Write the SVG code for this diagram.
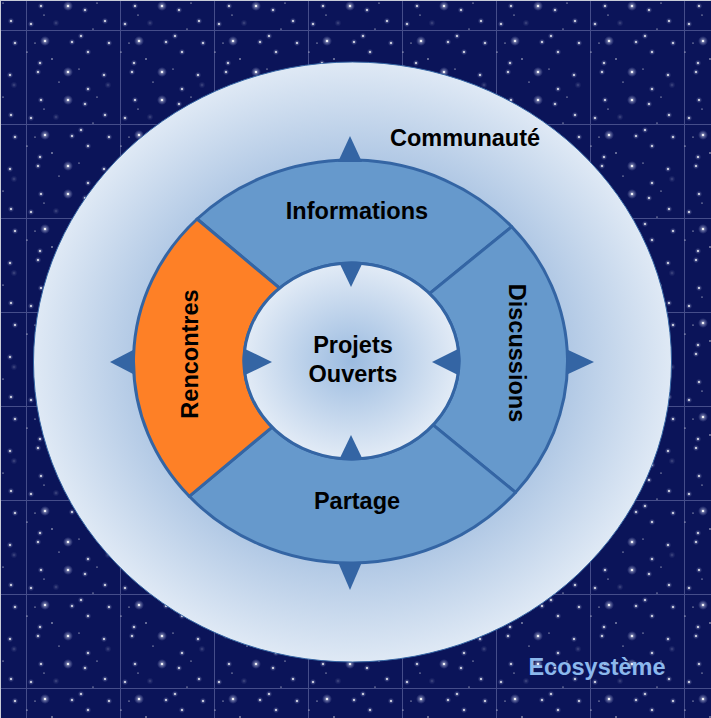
<svg xmlns="http://www.w3.org/2000/svg" width="711" height="718" viewBox="0 0 711 718">
<style>
.lbl{font-family:"Liberation Sans",Arial,sans-serif;font-weight:bold;font-size:23.5px;fill:#000;text-anchor:middle}
.seg{fill:#6699cc;stroke:#3465a4;stroke-width:3;stroke-linejoin:round}
.arr{fill:#3465a4}
.grid{stroke:#454d8a;stroke-width:1}
</style>
<defs>
<radialGradient id="glow">
<stop offset="0" stop-color="#ffffff" stop-opacity="0.9"/>
<stop offset="0.35" stop-color="#d8ddf5" stop-opacity="0.45"/>
<stop offset="1" stop-color="#a0a8e0" stop-opacity="0"/>
</radialGradient>
<radialGradient id="outerGrad" cx="0.5" cy="0.5" r="0.5">
<stop offset="0" stop-color="#9dbde0"/>
<stop offset="0.66" stop-color="#afc7e4"/>
<stop offset="1" stop-color="#dfe9f5"/>
</radialGradient>
<radialGradient id="innerGrad" cx="0.5" cy="0.5" r="0.5">
<stop offset="0" stop-color="#9bbbe0"/>
<stop offset="1" stop-color="#e2ebf6"/>
</radialGradient>
<g id="bigstar"><circle r="5" fill="url(#glow)"/><circle r="1.1" fill="#fff"/></g>
<g id="midstar"><circle r="3.2" fill="url(#glow)" opacity="0.7"/><circle r="0.9" fill="#fff" opacity="0.9"/></g>
<g id="faint"><circle r="3.5" fill="url(#glow)" opacity="0.3"/></g>
<pattern id="stars" patternUnits="userSpaceOnUse" x="26" y="30" width="94" height="94">
<rect width="94" height="94" fill="#0b1459"/>
<line class="grid" x1="0.5" y1="0" x2="0.5" y2="94"/>
<line class="grid" x1="0" y1="0.5" x2="94" y2="0.5"/>
<use href="#bigstar" x="19" y="11"/>
<use href="#midstar" x="46" y="12"/>
<use href="#midstar" x="55" y="6"/>
<use href="#midstar" x="83" y="13"/>
<circle cx="9" cy="13" r="0.6" fill="#fff"/>
<use href="#midstar" x="62" y="22"/>
<circle cx="1" cy="22" r="0.6" fill="#fff"/>
<circle cx="26" cy="29" r="0.7" fill="#fff"/>
<use href="#midstar" x="14" y="33"/>
<use href="#bigstar" x="42" y="42"/>
<use href="#midstar" x="12" y="42"/>
<circle cx="53" cy="39" r="0.6" fill="#fff"/>
<use href="#midstar" x="78" y="45"/>
<use href="#faint" x="82" y="55"/>
<use href="#midstar" x="62" y="59"/>
<circle cx="33" cy="52" r="0.6" fill="#fff"/>
<circle cx="71" cy="67" r="0.6" fill="#fff"/>
<use href="#midstar" x="15" y="70"/>
<use href="#bigstar" x="42" y="70"/>
<use href="#midstar" x="59" y="74"/>
<circle cx="18" cy="79" r="0.6" fill="#fff"/>
<use href="#midstar" x="79" y="85"/>
<use href="#midstar" x="5" y="88"/>
<use href="#faint" x="30" y="87"/>
<circle cx="67" cy="93" r="0.6" fill="#fff"/>
</pattern>
</defs>

<g id="background">
<rect width="711" height="718" fill="url(#stars)"/>
<line x1="0" y1="0.5" x2="711" y2="0.5" stroke="#c8ccd8"/>
<line x1="0.5" y1="0" x2="0.5" y2="718" stroke="#c8ccd8"/>
</g>

<g id="node-ecosysteme">
<text class="lbl" x="597" y="675" style="fill:#8cb8ec">Ecosystème</text>
</g>

<g id="node-communaute">
<ellipse cx="352.5" cy="362" rx="319" ry="300" fill="url(#outerGrad)" stroke="#3465a4" stroke-width="1"/>
<text class="lbl" x="465" y="146">Communauté</text>
</g>

<g id="node-informations">
<path class="seg" d="M197.06 219.02 A217 201.5 0 0 1 511.76 226.67 L429.48 293.54 A107.5 98 0 0 0 279.57 288.18 Z"/>
<text class="lbl" x="357" y="219">Informations</text>
</g>

<g id="node-discussions">
<path class="seg" d="M511.76 226.67 A217 201.5 0 0 1 515.5 492.4 L433 424.9 A107.5 98 0 0 0 429.48 293.54 Z"/>
<text class="lbl" transform="translate(509 353) rotate(90)" x="0" y="0">Discussions</text>
</g>

<g id="node-partage">
<path class="seg" d="M515.5 492.4 A217 201.5 0 0 1 189.25 496.32 L272.1 427.1 A107.5 98 0 0 0 433 424.9 Z"/>
<text class="lbl" x="357" y="509">Partage</text>
</g>

<g id="node-rencontres">
<path class="seg" style="fill:#fe8026" d="M189.25 496.32 A217 201.5 0 0 1 197.06 219.02 L279.57 288.18 A107.5 98 0 0 0 272.1 427.1 Z"/>
<text class="lbl" transform="translate(198 354) rotate(-90)" x="0" y="0">Rencontres</text>
</g>

<g id="node-projets">
<ellipse cx="351.5" cy="361" rx="107.5" ry="98" fill="url(#innerGrad)" stroke="#3465a4" stroke-width="3"/>
<text class="lbl" x="353" y="353">Projets</text>
<text class="lbl" x="353" y="382">Ouverts</text>
</g>

<g id="connectors">
<polygon class="arr" points="338,162 350,136 362,162"/>
<polygon class="arr" points="338,562 350,590 362,562"/>
<polygon class="arr" points="135,349 110,362 135,375"/>
<polygon class="arr" points="566,349 594,362 566,375"/>
<polygon class="arr" points="339,262 351,287 363,262"/>
<polygon class="arr" points="339,460 351,435 363,460"/>
<polygon class="arr" points="245,349 272,362 245,375"/>
<polygon class="arr" points="458,349 432,362 458,375"/>
</g>
</svg>
